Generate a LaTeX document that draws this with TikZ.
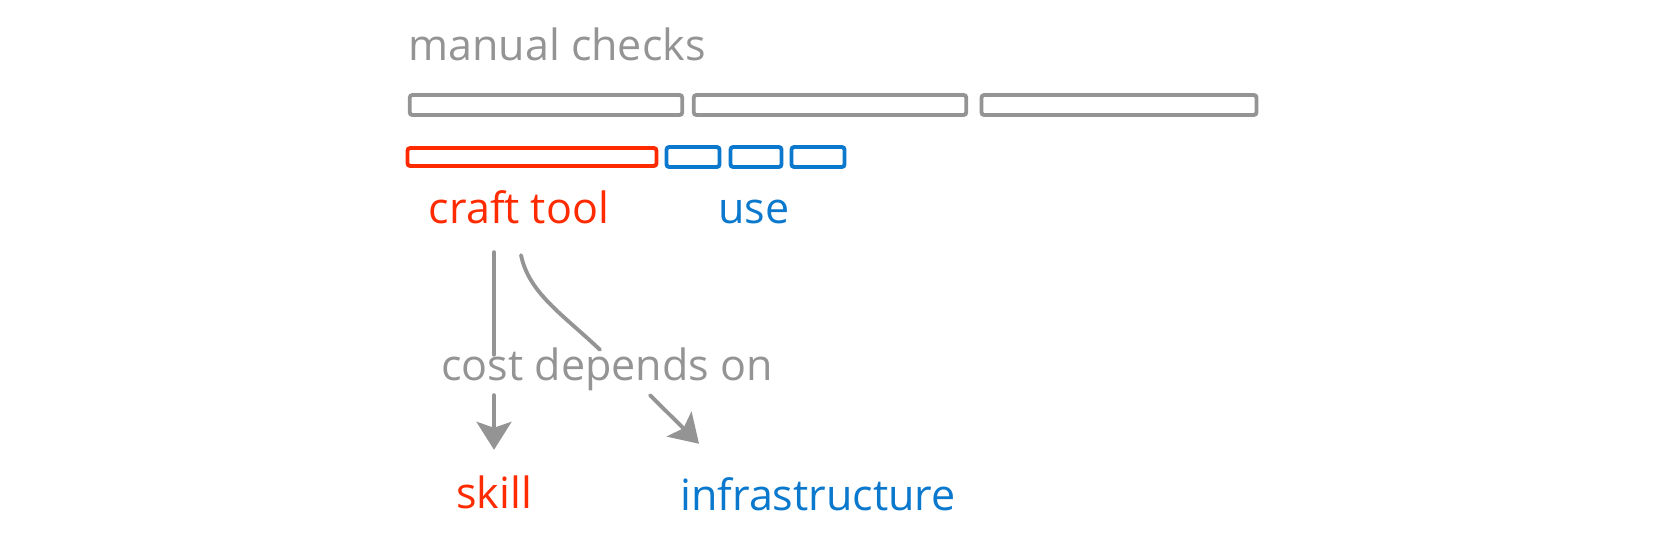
\documentclass[tikz,border=0pt]{standalone}
\usepackage{fontspec}
\setmainfont{Open Sans}
\usetikzlibrary{arrows.meta,positioning}
\definecolor{sketchgray}{HTML}{949494}
\definecolor{sketchred}{HTML}{FF2A00}
\definecolor{sketchblue}{HTML}{0A78CC}

\begin{document}
\begin{tikzpicture}[x=0.02cm, y=-0.02cm,
  txt/.style={font=\fontsize{24.5}{29}\selectfont, inner sep=0pt, anchor=base, text height=17pt, text depth=5pt},
  barbox/.style={draw, line width=2.2pt, rounded corners=1.5pt, minimum height=0.4cm, inner sep=0pt},
  line/.style={draw=sketchgray, line width=2.2pt, line cap=round},
  arrowline/.style={line, -{Stealth[length=0.56cm, width=0.7cm, inset=0.12cm]}}
]
\useasboundingbox (0,0) rectangle (1666,555);

% the whole job, then the two ways of doing it
\node[txt, text=sketchgray] (mc) at (557,60) {manual checks};
\node[barbox, draw=sketchgray, minimum width=5.45cm] (m1) at (546,105) {};
\node[barbox, draw=sketchgray, minimum width=5.45cm] (m2) at (830,105) {};
\node[barbox, draw=sketchgray, minimum width=5.5cm] (m3) at (1119,105) {};
\node[barbox, draw=sketchred, minimum width=4.98cm, minimum height=0.36cm] (craft) at (532,157) {};
\node[barbox, draw=sketchblue, minimum width=1.06cm] (u1) at (693,157) {};
\node[barbox, draw=sketchblue, minimum width=1.02cm] (u2) at (756,157) {};
\node[barbox, draw=sketchblue, minimum width=1.06cm] (u3) at (818,157) {};

\node[txt, text=sketchred] (ct) at (519,223) {craft tool};
\node[txt, text=sketchblue] (use) at (754,223) {use};
\node[txt, text=sketchgray] (cost) at (607,380) {cost depends on};
\node[txt, text=sketchred] (sk) at (494,508) {skill};
\node[txt, text=sketchblue] (inf) at (818,510) {infrastructure};

\draw[line, shorten <=0.4cm, shorten >=-0.1cm] (ct.south -| sk.north) -- (cost.north -| sk.north);
\draw[line] ([xshift=0.04cm, yshift=-0.46cm]ct.south) .. controls +(8,38) and +(-38,-36) .. ([xshift=-0.14cm]cost.north);
\draw[arrowline, shorten <=0.12cm, shorten >=0.56cm] (cost.south -| sk.north) -- (sk.north);
\draw[arrowline] ([xshift=0.86cm, yshift=-0.12cm]cost.south) -- ([xshift=-2.38cm, yshift=0.72cm]inf.north);
\end{tikzpicture}
\end{document}
